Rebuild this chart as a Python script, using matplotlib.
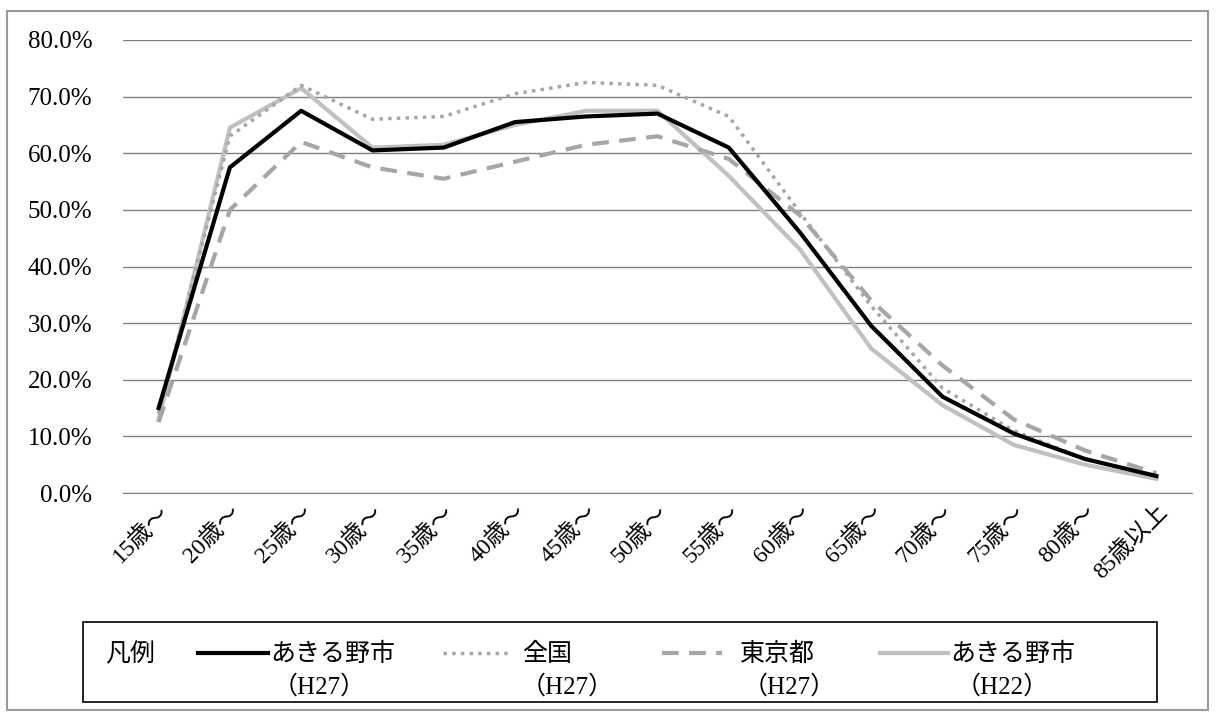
import matplotlib.pyplot as plt
from matplotlib.lines import Line2D
from matplotlib.patches import Rectangle

plt.rcParams['font.family'] = ['Liberation Serif', 'Noto Sans CJK JP', 'DejaVu Sans']

ages = ['15歳～', '20歳～', '25歳～', '30歳～', '35歳～', '40歳～', '45歳～', '50歳～',
        '55歳～', '60歳～', '65歳～', '70歳～', '75歳～', '80歳～', '85歳以上']
akiruno_h27 = [15, 57.5, 67.5, 60.5, 61, 65.5, 66.5, 67, 61, 46, 29.5, 17, 10.5, 6, 3]
zenkoku_h27 = [14, 63, 72, 66, 66.5, 70.5, 72.5, 72, 66.5, 49.5, 33, 18.5, 11, 6, 3]
tokyo_h27 = [12.5, 50, 62, 57.5, 55.5, 58.5, 61.5, 63, 59, 49, 34, 22.5, 13, 7.5, 3.5]
akiruno_h22 = [13, 64.5, 71.5, 61, 61.5, 65, 67.5, 67.5, 56, 43, 25.5, 15.5, 8.5, 5, 2.5]

names = ['あきる野市', '全国', '東京都', 'あきる野市']
years = ['（H27）', '（H27）', '（H27）', '（H22）']
styles = [dict(color='black', lw=3),
          dict(color='#a6a6a6', lw=2.5, ls=(0, (1, 1.5))),
          dict(color='#a6a6a6', lw=3, ls=(0, (4, 2.5))),
          dict(color='#c0c0c0', lw=3)]

W, H = 1222, 717
def fx(px): return px / W
def fy(py): return 1 - py / H

fig = plt.figure(figsize=(W / 100, H / 100), dpi=100)
fig.patches.append(Rectangle((fx(7), fy(710)), fx(1208) - fx(7), fy(11) - fy(710),
                             transform=fig.transFigure, fill=False, edgecolor='#999999', lw=1.5))
ax = fig.add_axes([fx(123), fy(493), fx(1192) - fx(123), fy(40) - fy(493)])
x = range(len(ages))
for z, (vals, st) in enumerate(zip([akiruno_h27, zenkoku_h27, tokyo_h27, akiruno_h22], styles)):
    ax.plot(x, vals, zorder=5 - z, **st)

ax.set_xlim(-0.5, 14.5)
ax.set_ylim(0, 80)
ax.set_yticks(range(0, 81, 10))
ax.set_yticklabels([f'{v:.1f}%' for v in range(0, 81, 10)], fontsize=18)
ax.set_xticks(list(x))
ax.set_xticklabels(ages, rotation=45, ha='right', rotation_mode='anchor', fontsize=17)
ax.grid(axis='y', color='#808080', lw=1)
ax.set_axisbelow(True)
for s in ['top', 'right', 'left']:
    ax.spines[s].set_visible(False)
ax.spines['bottom'].set_color('#808080')
ax.tick_params(axis='y', length=0, pad=22)
ax.tick_params(axis='x', length=0, pad=6)

# hand-made legend box
fig.patches.append(Rectangle((fx(83), fy(702)), fx(1157) - fx(83), fy(622) - fy(702),
                             transform=fig.transFigure, fill=False, edgecolor='black', lw=1.2))
fig.text(fx(105), fy(655), '凡例', fontsize=18, va='center')
handle_x = [(198, 268), (443, 508), (662, 722), (880, 948)]
year_x = [285, 533, 755, 968]
text_gap = [2, 14, 18, 2]
for (x0, x1), st, nm, yr, yx, g in zip(handle_x, styles, names, years, year_x, text_gap):
    fig.add_artist(Line2D([fx(x0), fx(x1)], [fy(653), fy(653)], transform=fig.transFigure, **st))
    fig.text(fx(x1 + g), fy(654), nm, fontsize=18, va='center')
    fig.text(fx(yx - 12), fy(687), yr, fontsize=18, va='center')
fig.savefig('out.png', dpi=100)
